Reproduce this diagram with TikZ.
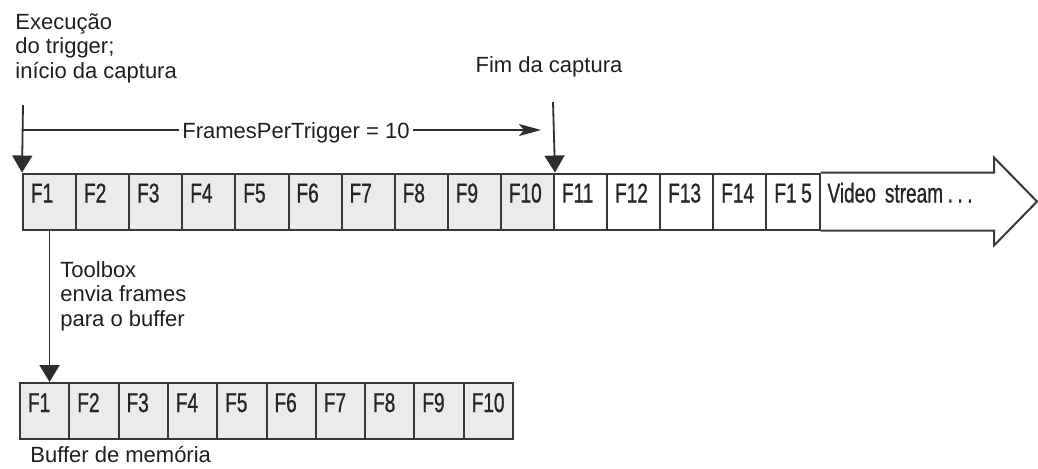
\documentclass[tikz,border=0pt]{standalone}
\usepackage{fontspec}
\setmainfont{Liberation Sans}
\newfontfamily\framefont[FakeStretch=0.7,FakeBold=0.8]{Liberation Sans}
\usepackage{tikz}
\usetikzlibrary{positioning,arrows.meta,calc}
\tikzset{}

\begin{document}
\begin{tikzpicture}[x=0.5pt,y=-0.5pt]
            \tikzset{
                fr cell/.style={draw=black!78,fill=black!8,line width=1pt,
                    inner xsep=4pt,inner ysep=0pt,text height=14.5pt,text depth=13.5pt,
                    text width=#1,align=left,font=\framefont\fontsize{13.6}{15}\selectfont,text=black!85},
                fr note/.style={inner sep=0pt,align=left,font=\fontsize{11}{12.3}\selectfont,text=black!88},
                fr arrow/.style={draw=black!82,line width=0.9pt,-{Triangle[width=10pt,length=8.5pt]}}
            }
            \useasboundingbox (0,0) rectangle (1038,468);
            % video stream
            \node[fr cell=18.55pt] (t1) at (49.55, 201.5) {F1};
            \node[fr cell=18.55pt] (t2) at (102.65, 201.5) {F2};
            \node[fr cell=18.55pt] (t3) at (155.75, 201.5) {F3};
            \node[fr cell=18.55pt] (t4) at (208.85, 201.5) {F4};
            \node[fr cell=18.55pt] (t5) at (261.95, 201.5) {F5};
            \node[fr cell=18.55pt] (t6) at (315.05, 201.5) {F6};
            \node[fr cell=18.55pt] (t7) at (368.15, 201.5) {F7};
            \node[fr cell=18.55pt] (t8) at (421.25, 201.5) {F8};
            \node[fr cell=18.55pt] (t9) at (474.35, 201.5) {F9};
            \node[fr cell=18.55pt] (t10) at (527.45, 201.5) {F10};
            \node[fr cell=18.55pt,fill=white] (t11) at (580.55, 201.5) {F11};
            \node[fr cell=18.55pt,fill=white] (t12) at (633.65, 201.5) {F12};
            \node[fr cell=18.55pt,fill=white] (t13) at (686.75, 201.5) {F13};
            \node[fr cell=18.55pt,fill=white] (t14) at (739.85, 201.5) {F14};
            \node[fr cell=18.55pt,fill=white] (t15) at (792.95, 201.5) {F1\,5};
            \node[fr cell=78.75pt,draw=none,fill=none] (vs) at (906.25, 201.5) {Video stream\,.\,.\,.};
            \coordinate (tip) at ($(vs.east)+(43,0)$);
            \draw[draw=black!78,line width=1pt,line join=miter]
                (t15.north east) -- (vs.north east) -- ++(0,-15) -- (tip)
                -- ($(vs.south east)+(0,15)$) -- (vs.south east) -- (t15.south east);
            % memory buffer
            \node[fr cell=16.65pt] (b1) at (44.65, 411) {F1};
            \node[fr cell=16.65pt] (b2) at (93.95, 411) {F2};
            \node[fr cell=16.65pt] (b3) at (143.25, 411) {F3};
            \node[fr cell=16.65pt] (b4) at (192.55, 411) {F4};
            \node[fr cell=16.65pt] (b5) at (241.85, 411) {F5};
            \node[fr cell=16.65pt] (b6) at (291.15, 411) {F6};
            \node[fr cell=16.65pt] (b7) at (340.45, 411) {F7};
            \node[fr cell=16.65pt] (b8) at (389.75, 411) {F8};
            \node[fr cell=16.65pt] (b9) at (439.05, 411) {F9};
            \node[fr cell=16.65pt] (b10) at (488.35, 411) {F10};
            % notes
            \node[fr note,anchor=north west] (exec) at (15, 13) {Execução\\do trigger;\\início da captura};
            \node[fr note,anchor=base] (fim) at (549, 72) {Fim da captura};
            \node[fr note,anchor=base,inner xsep=1.5pt] (fpt) at (296, 138) {FramesPerTrigger = 10};
            \node[fr note,anchor=north west] (tbx) at (60, 261) {Toolbox\\envia frames\\para o buffer};
            \node[fr note,anchor=base west] (buf) at (30, 462) {Buffer de memória};
            \coordinate (trig) at (23, 105);
            \coordinate (end) at (553, 102);
            \coordinate (h0) at (23, 130);
            \coordinate (h1) at (541, 130);
            \path
                (trig) edge[fr arrow] (t1.north west)
                (end) edge[fr arrow] (t10.north east)
                (t1.south) edge[fr arrow] (t1.south |- b1.north)
                ;
            \draw[draw=black!82,line width=0.9pt] (h0) -- (h0 -| fpt.west);
            \draw[draw=black!82,line width=0.9pt,-{Stealth[length=11pt,width=6pt,inset=2.5pt]}]
                (fpt.east |- h1) -- (h1);
        \end{tikzpicture}
\end{document}
